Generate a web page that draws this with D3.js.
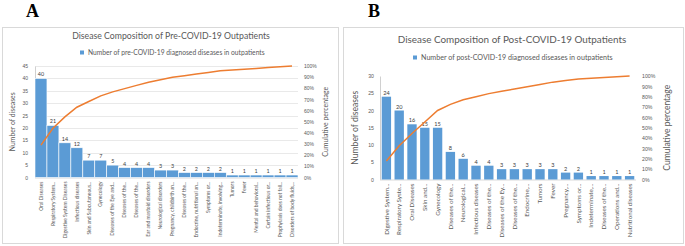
<!DOCTYPE html>
<html>
<head>
<meta charset="utf-8">
<script src="https://cdn.jsdelivr.net/npm/d3@7"></script>
<style>
  body { margin: 0; background: #fff; }
  svg { display: block; font-family: "Lato", "Liberation Sans", sans-serif; }
</style>
</head>
<body>
<div id="chart"></div>
<script>
// panel A data
const preCategories = ["Oral Diseases", "Respiratory System...", "Digestive System Diseases", "Infectious diseases",
    "Skin and Subcutaneous...", "Gynecology", "Diseases of the Eye and...", "Diseases of the...", "Diseases of the...",
    "Ear and mastoid disorders", "Neurological disorders", "Pregnancy, childbirth an...", "Diseases of the...",
    "Endocrine, nutritional an...", "Symptoms or...", "Indeterminate, involving...", "Tumors", "Fever",
    "Mental and behavioral...", "Certain infectious or...", "Prophylaxis does not fall...", "Disorders of body fluids,..."];
const preCounts = [40, 21, 14, 12, 7, 7, 5, 4, 4, 4, 3, 3, 2, 2, 2, 2, 1, 1, 1, 1, 1, 1];
const preTicks = [0, 5, 10, 15, 20, 25, 30, 35, 40, 45];

// panel B data
const postCategories = ["Digestive System...", "Respiratory Syste...", "Oral Diseases", "Skin and...", "Gynecology",
    "Diseases of the...", "Neurological...", "Infectious diseases", "Diseases of the...", "Diseases of the Ey...",
    "Diseases of the...", "Endocrine,...", "Tumors", "Fever", "Pregnancy,...", "Symptoms or...",
    "Indeterminate,...", "Diseases of the...", "Operations and...", "Nutritional diseases"];
const postCounts = [24, 20, 16, 15, 15, 8, 6, 4, 4, 3, 3, 3, 3, 3, 2, 2, 1, 1, 1, 1];
const postTicks = [0, 5, 10, 15, 20, 25, 30];

const pctTicks = d3.range(0, 1.01, 0.1);

// scale a text's font so that it takes the wanted length
function fitSize(sel, width) {
    const node = sel.node();
    const size = parseFloat(sel.attr("font-size"));
    const len = node.getComputedTextLength();
    const s = size * width / len;
    sel.attr("font-size", s);
    return s;
}

class ParetoChart {
    constructor(_config) {
        this.config = _config;
        this.initVis();
    }

    initVis() {
        const vis = this;
        const c = vis.config;

        vis.g = c.svg.append("g");

        // frame
        vis.g.append("rect")
            .attr("x", c.frame.x + 0.5).attr("y", c.frame.y + 0.5)
            .attr("width", c.frame.w).attr("height", c.frame.h)
            .attr("fill", "#fff").attr("stroke", "#d9d9d9");

        // panel letter
        vis.g.append("text")
            .attr("x", c.letterX).attr("y", 17)
            .attr("font-family", "Liberation Serif, serif")
            .attr("font-weight", "bold")
            .attr("font-size", 18)
            .text(c.letter);

        const title = vis.g.append("text")
            .attr("x", c.titleX).attr("y", c.titleY)
            .attr("text-anchor", "middle")
            .attr("fill", "#595959")
            .attr("font-size", 10)
            .text(c.title);
        fitSize(title, c.titleW);

        // legend
        vis.g.append("rect")
            .attr("x", c.legendX).attr("y", c.legendY - 3.5)
            .attr("width", 4).attr("height", 4)
            .attr("fill", "#5b9bd5");
        const leg = vis.g.append("text")
            .attr("x", c.legendX + 8).attr("y", c.legendY)
            .attr("dy", "0.1em")
            .attr("fill", "#595959")
            .attr("font-size", 7)
            .text(c.legend);
        fitSize(leg, c.legendW);

        vis.xScale = d3.scaleBand()
            .domain(d3.range(c.counts.length))
            .range([c.left, c.right])
            .paddingInner(c.padding)
            .paddingOuter(c.padding / 2);

        vis.yScale = d3.scaleLinear()
            .domain([0, d3.max(c.ticks)])
            .range([c.bottom, c.top]);

        vis.pScale = d3.scaleLinear()
            .domain([0, 1])
            .range([c.bottom, c.top]);

        // axis titles
        const lt = vis.g.append("text")
            .attr("transform", `translate(${c.leftTitleX},${(c.top + c.bottom) / 2}) rotate(-90)`)
            .attr("text-anchor", "middle")
            .attr("fill", "#595959")
            .attr("font-size", 9)
            .text("Number of diseases");
        fitSize(lt, c.leftTitleW);

        const rt = vis.g.append("text")
            .attr("transform", `translate(${c.rightTitleX},${(c.top + c.bottom) / 2}) rotate(-90)`)
            .attr("text-anchor", "middle")
            .attr("fill", "#595959")
            .attr("font-size", 9)
            .text("Cumulative percentage");
        fitSize(rt, c.rightTitleW);

        vis.updateVis();
    }

    updateVis() {
        const vis = this;
        const c = vis.config;

        // gridlines
        if (c.grid) {
            vis.g.append("g")
                .selectAll("line")
                .data(c.ticks.slice(1))
                .join("line")
                .attr("x1", c.left).attr("x2", c.right)
                .attr("y1", d => Math.round(vis.yScale(d)) + 0.5)
                .attr("y2", d => Math.round(vis.yScale(d)) + 0.5)
                .attr("stroke", "#e3e3e3")
                .attr("stroke-width", 0.8);
        }

        // left axis
        const yAxis = vis.g.append("g")
            .attr("transform", `translate(${c.left},0)`)
            .call(d3.axisLeft(vis.yScale).tickValues(c.ticks).tickSize(0).tickPadding(c.tickPad));
        yAxis.select(".domain").attr("stroke", "#d0d0d0");
        yAxis.selectAll("text").attr("fill", "#595959").attr("font-size", c.tickSize);

        // right axis
        const pAxis = vis.g.append("g")
            .attr("transform", `translate(${c.right},0)`)
            .call(d3.axisRight(vis.pScale).tickValues(pctTicks).tickFormat(d3.format(".0%")).tickSize(0).tickPadding(c.pctPad));
        pAxis.select(".domain").remove();
        pAxis.selectAll("text").attr("fill", "#595959").attr("font-size", c.tickSize);

        // baseline
        vis.g.append("line")
            .attr("x1", c.left).attr("x2", c.right)
            .attr("y1", c.bottom + 0.5).attr("y2", c.bottom + 0.5)
            .attr("stroke", "#d9d9d9");

        // bars
        vis.g.append("g")
            .selectAll("rect")
            .data(c.counts)
            .join("rect")
            .attr("x", (d, i) => vis.xScale(i))
            .attr("y", d => vis.yScale(d))
            .attr("width", vis.xScale.bandwidth())
            .attr("height", d => c.bottom - vis.yScale(d))
            .attr("fill", "#5b9bd5")
            .attr("stroke", c.padding === 0 ? "#fff" : "none")
            .attr("stroke-width", 0.6);

        // value labels
        vis.g.append("g")
            .selectAll("text")
            .data(c.counts)
            .join("text")
            .attr("x", (d, i) => vis.xScale(i) + vis.xScale.bandwidth() / 2)
            .attr("y", d => vis.yScale(d) - 2)
            .attr("text-anchor", "middle")
            .attr("fill", "#404040")
            .attr("font-size", c.valueSize)
            .text(d => d);

        // category labels, sized from one reference label
        const cats = vis.g.append("g")
            .selectAll("text")
            .data(c.categories)
            .join("text")
            .attr("transform", (d, i) => `translate(${vis.xScale(i) + vis.xScale.bandwidth() / 2},${c.bottom + 4}) rotate(-90)`)
            .attr("text-anchor", "end")
            .attr("dy", "0.35em")
            .attr("fill", "#595959")
            .attr("font-size", 6)
            .text(d => d);
        const ref = cats.filter((d, i) => i === c.catRef.index);
        const catSize = fitSize(ref, c.catRef.width);
        cats.attr("font-size", catSize);

        // cumulative line
        const total = d3.sum(c.counts);
        const cum = d3.cumsum(c.counts).map(v => v / total);
        const line = d3.line()
            .x((d, i) => vis.xScale(i) + vis.xScale.bandwidth() / 2)
            .y(d => vis.pScale(d));
        vis.g.append("path")
            .attr("fill", "none")
            .attr("stroke", "#ed7d31")
            .attr("stroke-width", 1.5)
            .attr("d", line(cum));
    }
}

const svg = d3.select("#chart")
    .append("svg")
    .attr("width", 685)
    .attr("height", 246);

new ParetoChart({
    svg: svg, letter: "A", letterX: 26,
    title: "Disease Composition of Pre-COVID-19 Outpatients",
    legend: "Number of pre-COVID-19 diagnosed diseases in outpatients",
    categories: preCategories, counts: preCounts, ticks: preTicks,
    frame: { x: 2, y: 27, w: 336, h: 216 },
    titleX: 171, titleY: 39, titleW: 198,
    legendX: 80, legendY: 54, legendW: 177,
    left: 35, right: 298, top: 66, bottom: 177.5,
    padding: 0, grid: true,
    tickSize: 5, tickPad: 7, pctPad: 6,
    valueSize: 5.4, catRef: { index: 2, width: 57 },
    leftTitleW: 59, rightTitleW: 70, leftTitleX: 15, rightTitleX: 328
});

new ParetoChart({
    svg: svg, letter: "B", letterX: 368,
    title: "Disease Composition of Post-COVID-19 Outpatients",
    legend: "Number of post-COVID-19 diagnosed diseases in outpatients",
    categories: postCategories, counts: postCounts, ticks: postTicks,
    frame: { x: 343, y: 27, w: 340, h: 216 },
    titleX: 512, titleY: 43, titleW: 229,
    legendX: 413, legendY: 59, legendW: 192,
    left: 380, right: 636, top: 76, bottom: 179.5,
    padding: 0.27, grid: false,
    tickSize: 5.2, tickPad: 6, pctPad: 6,
    valueSize: 5.6, catRef: { index: 19, width: 54 },
    leftTitleW: 74, rightTitleW: 86, leftTitleX: 358, rightTitleX: 670
});
</script>
</body>
</html>
